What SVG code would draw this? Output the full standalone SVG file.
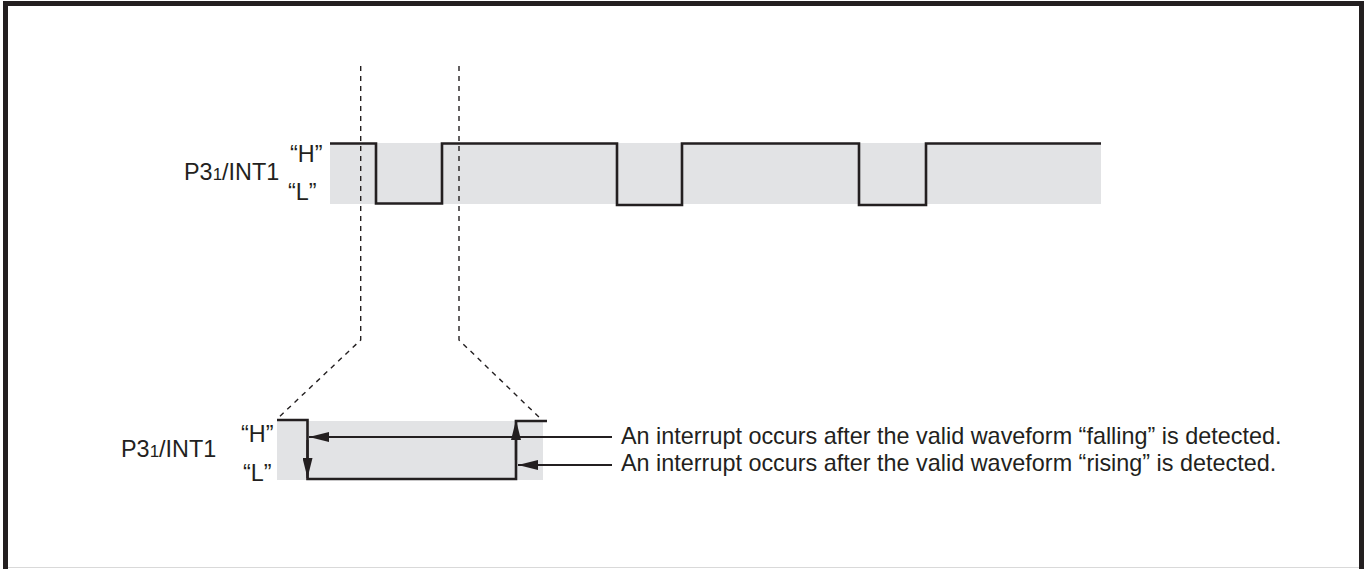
<svg xmlns="http://www.w3.org/2000/svg" width="1371" height="569" viewBox="0 0 1371 569">
<defs>
<style>
.t{font-family:"Liberation Sans",Arial,sans-serif;font-size:23.4px;fill:#231f20}
.sub{font-size:17px}
.band{fill:#e2e3e5}
.wave{fill:none;stroke:#231f20;stroke-width:2.6;stroke-linejoin:miter}
.dash{fill:none;stroke:#231f20;stroke-width:1.4;stroke-dasharray:5,5}
.arr{fill:none;stroke:#231f20;stroke-width:2.2}
</style>
<marker id="ah2" viewBox="0 0 20 10" refX="20" refY="5" markerWidth="20" markerHeight="10" markerUnits="userSpaceOnUse" orient="auto">
<path d="M0,0 L20,5 L0,10 Z" fill="#231f20"/>
</marker>
</defs>
<rect width="1371" height="569" fill="#ffffff"/>
<g id="frame">
<path d="M5.5,600 V3.5 H1361.5 V600" fill="none" stroke="#231f20" stroke-width="5"/>
<line x1="8" y1="567.5" x2="1359" y2="567.5" stroke="#d9d9d9" stroke-width="1"/>
</g>
<g id="top-signal">
<rect class="band" x="330" y="143" width="771" height="61"/>
<path class="wave" d="M330,143.5 H376 V203.5 H442 V143.5 H617 V205 H682 V143.5 H859 V205 H926 V143.5 H1101"/>
<text class="t" x="184" y="180">P3<tspan class="sub">1</tspan>/INT1</text>
<text class="t" x="290" y="162">“H”</text>
<text class="t" x="288" y="200">“L”</text>
</g>
<g id="connectors">
<path class="dash" d="M360.7,66 V340 L277,419"/>
<path class="dash" d="M459,66 V340 L543,421"/>
</g>
<g id="bottom-signal">
<rect class="band" x="277" y="421" width="266" height="59"/>
<path class="wave" d="M277,420 H307.5 V479 H516 V421 H547"/>
<text class="t" x="121" y="457">P3<tspan class="sub">1</tspan>/INT1</text>
<text class="t" x="241" y="442">“H”</text>
<text class="t" x="243" y="481">“L”</text>
</g>
<g id="arrows">
<line class="arr" x1="307.5" y1="440" x2="307.5" y2="478" marker-end="url(#ah2)"/>
<line class="arr" x1="516" y1="460" x2="516" y2="420" marker-end="url(#ah2)"/>
<line class="arr" x1="612" y1="437" x2="309" y2="437" marker-end="url(#ah2)"/>
<line class="arr" x1="612" y1="465" x2="518" y2="465" marker-end="url(#ah2)"/>
</g>
<g id="notes">
<text class="t" x="621" y="444">An interrupt occurs after the valid waveform “falling” is detected.</text>
<text class="t" x="621" y="471">An interrupt occurs after the valid waveform “rising” is detected.</text>
</g>
</svg>
